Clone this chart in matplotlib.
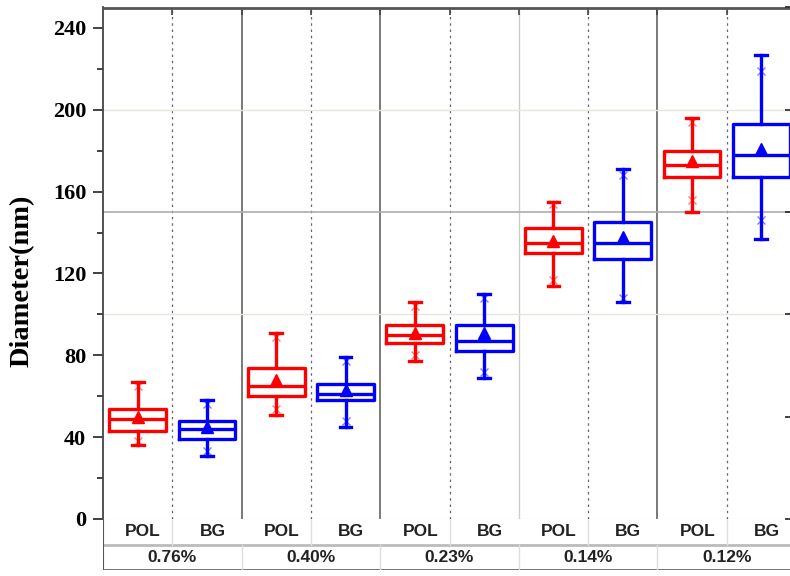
import numpy as np
import matplotlib
matplotlib.use("Agg")
from matplotlib import pyplot as plt

# values (nm)
groups = ['0.76%', '0.40%', '0.23%', '0.14%', '0.12%']
kinds = ['POL', 'BG']
whis_lo = [36, 31, 51, 45, 77, 69, 114, 106, 150, 137]
q1 = [43, 39, 60, 58, 86, 82, 130, 127, 167, 167]
med = [49, 44, 65, 61, 90, 87, 135, 135, 173, 178]
q3 = [54, 48, 74, 66, 95, 95, 142, 145, 180, 193]
whis_hi = [67, 58, 91, 79, 106, 110, 155, 171, 196, 227]
means = [50, 45, 68, 63, 91, 91, 136, 138, 175, 181]
p01 = [38, 33, 54, 48, 80, 72, 117, 108, 156, 146]
p99 = [65, 56, 89, 77, 104, 108, 154, 168, 194, 219]

colors = ['red', 'blue'] * len(groups)
pos = np.arange(1, len(whis_lo) + 1)

fig = plt.figure(figsize=(7.9, 5.76), dpi=100)
ax = fig.add_axes([103 / 790, 57 / 576, 693 / 790, 511.5 / 576])
tab = fig.add_axes([103 / 790, 6 / 576, 693 / 790, 51 / 576])

stats = []
for i in range(len(pos)):
    stats.append(dict(whislo=whis_lo[i], q1=q1[i], med=med[i], q3=q3[i],
                      whishi=whis_hi[i], mean=means[i], fliers=[p01[i], p99[i]]))

lw = 2.4
for i in range(len(pos)):
    c = colors[i]
    ax.bxp([stats[i]], positions=[pos[i]], widths=0.82, showmeans=True,
           boxprops=dict(color=c, linewidth=lw),
           medianprops=dict(color=c, linewidth=lw),
           whiskerprops=dict(color=c, linewidth=lw),
           capprops=dict(color=c, linewidth=lw),
           capwidths=0.17,
           meanprops=dict(marker='^', markerfacecolor=c, markeredgecolor=c, markersize=9),
           flierprops=dict(marker='x', markeredgecolor=c, markersize=6, alpha=0.5, markeredgewidth=1))

ax.set_xlim(0.5, 10.5)
ax.set_ylim(0, 250)

# grid-like separators
for x in np.arange(1.5, 10.5, 2):
    ax.axvline(x, color='#666677', lw=0.9, ls=(0, (2, 3)), zorder=0)
for x in [2.5, 4.5, 8.5]:
    ax.axvline(x, color='#555555', lw=1.1, zorder=0)
ax.axvline(6.5, color='#cccccc', lw=1.0, zorder=0)
ax.axhline(150, color='#aaaab5', lw=1.2, zorder=0)
for y in [100, 200]:
    ax.axhline(y, color='#e6e6dc', lw=1.0, zorder=0)

ax.set_yticks(np.arange(0, 241, 40))
ax.set_yticks(np.arange(20, 241, 40), minor=True)
ax.set_yticklabels([str(v) for v in range(0, 241, 40)], fontfamily='Liberation Serif',
                   fontweight='bold', fontsize=16)
ax.tick_params(axis='y', which='major', direction='out', length=7, width=1.3, color='#333333', pad=5)
ax.tick_params(axis='y', which='minor', direction='out', length=4, width=1.3, color='#333333')
ax.set_xticks(np.arange(1.5, 10.5, 1))
ax.set_xticklabels([])
ax.tick_params(axis='x', which='both', bottom=False, top=True, direction='in', length=5,
               width=1.2, color='#444444')

ax.set_ylabel('Diameter(nm)', fontfamily='Liberation Serif', fontweight='bold', fontsize=20.5)
ax.yaxis.set_label_coords(-0.098, 0.465)

ax.spines['top'].set_color('#555555')
ax.spines['top'].set_linewidth(2)
ax.spines['left'].set_color('#444444')
ax.spines['left'].set_linewidth(1.3)
ax.spines['bottom'].set_color('#cccccc')
ax.spines['right'].set_visible(False)

# right-hand axis ticks
ax2 = ax.twinx()
ax2.set_ylim(0, 250)
ax2.set_yticks(np.arange(0, 251, 50))
ax2.set_yticklabels([])
ax2.tick_params(axis='y', direction='in', length=8, width=1.3, color='#333333')
for s in ax2.spines.values():
    s.set_visible(False)

# category table below the axis
tab.set_xlim(0.5, 10.5)
tab.set_ylim(0, 2)
tab.set_xticks([])
tab.set_yticks([])
for s in tab.spines.values():
    s.set_visible(False)
tab.axhline(0, color='#666666', lw=2)
tab.axhline(1, color='#bbbbbb', lw=2)
tab.axvline(0.5, color='#555555', lw=1.5)
for x in np.arange(1.5, 10.5, 2):
    tab.plot([x, x], [1, 2], color='#dddddd', lw=1)
for x in np.arange(2.5, 10.5, 2):
    tab.plot([x, x], [0, 1], color='#dddddd', lw=1)
for i in range(len(pos)):
    tab.text(pos[i] + 0.08, 1.5, kinds[i % 2], ha='center', va='center', fontsize=12.5,
             fontfamily='Liberation Sans', fontweight='bold', color='#222222')
for j, g in enumerate(groups):
    tab.text(2 * j + 1.5, 0.5, g, ha='center', va='center', fontsize=12.5,
             fontfamily='Liberation Sans', fontweight='bold', color='#222222')

fig.savefig('out.png', dpi=100)
